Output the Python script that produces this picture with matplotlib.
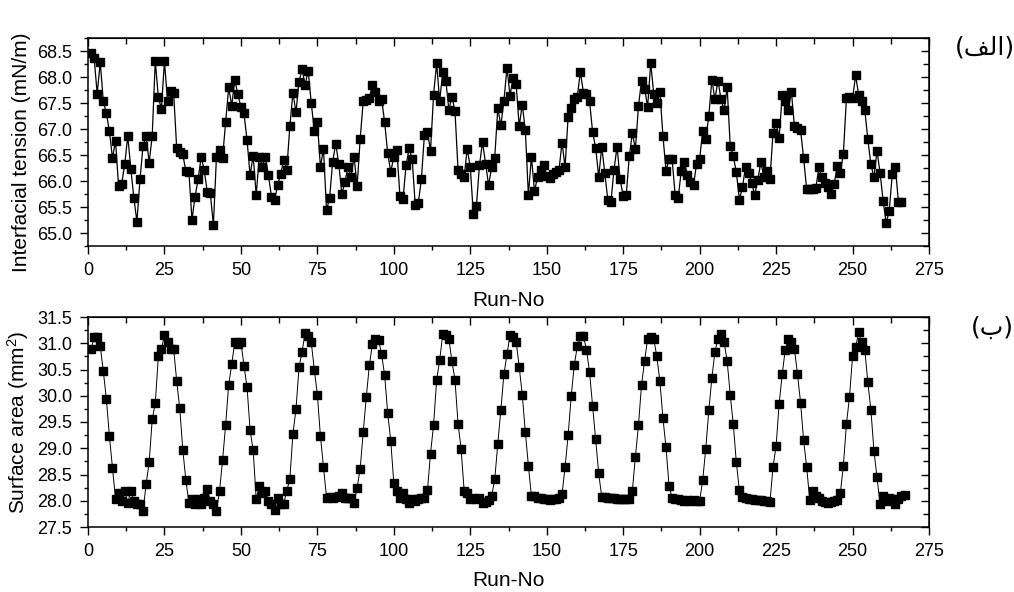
import numpy as np
import matplotlib
matplotlib.use("Agg")
import matplotlib.pyplot as plt
from matplotlib.ticker import MultipleLocator, NullFormatter, FormatStrFormatter

plt.rcParams['font.family'] = ['Liberation Sans', 'DejaVu Sans']
plt.rcParams['mathtext.default'] = 'regular'

# ---------------- data ----------------
tension = [
    68.47, 68.37, 67.68, 68.28, 67.54, 67.30, 66.96, 66.44, 66.77, 65.90,
    65.94, 66.32, 66.86, 66.24, 65.67, 65.22, 66.03, 66.68, 66.87, 66.35,
    66.87, 68.31, 67.61, 67.39, 68.30, 67.54, 67.74, 67.70, 66.63, 66.56,
    66.51, 66.19, 66.17, 65.25, 65.70, 66.03, 66.46, 66.21, 65.79, 65.76,
    65.15, 66.46, 66.60, 66.45, 67.13, 67.80, 67.45, 67.94, 67.67, 67.42,
    67.30, 66.79, 66.11, 66.49, 65.73, 66.46, 66.27, 66.47, 66.11, 65.70,
    65.63, 65.92, 66.14, 66.40, 66.22, 67.05, 67.70, 67.32, 67.91, 68.15,
    67.85, 68.12, 67.50, 66.97, 67.13, 66.27, 66.62, 65.44, 65.67, 66.37,
    66.72, 66.33, 65.75, 65.98, 66.27, 66.08, 66.47, 65.90, 66.81, 67.54,
    67.56, 67.60, 67.84, 67.72, 67.54, 67.58, 67.13, 66.53, 66.18, 66.46,
    66.60, 65.71, 65.65, 66.30, 66.63, 66.43, 65.54, 65.57, 66.03, 66.88,
    66.95, 66.58, 67.66, 68.26, 67.54, 68.10, 67.93, 67.37, 67.62, 67.35,
    66.21, 66.13, 66.08, 66.62, 66.27, 65.37, 65.51, 66.30, 66.75, 66.33,
    65.92, 66.27, 66.45, 67.40, 67.07, 67.54, 68.18, 67.64, 67.99, 67.86,
    67.05, 67.47, 66.98, 65.73, 66.47, 65.80, 66.08, 66.22, 66.30, 66.10,
    66.05, 66.13, 66.18, 66.21, 66.74, 66.27, 67.24, 67.40, 67.58, 67.62,
    68.10, 67.70, 67.68, 67.54, 66.94, 66.64, 66.08, 66.66, 66.15, 65.63,
    65.60, 66.22, 66.66, 66.03, 65.71, 65.73, 66.48, 66.92, 66.62, 67.44,
    67.93, 67.77, 67.43, 68.27, 67.67, 67.50, 67.72, 66.87, 66.20, 66.42,
    66.42, 65.73, 65.68, 66.20, 66.37, 66.11, 65.98, 65.92, 66.33, 66.42,
    66.97, 66.80, 67.25, 67.95, 67.57, 67.93, 67.57, 67.36, 67.80, 66.68,
    66.48, 66.17, 65.64, 65.88, 66.27, 66.16, 65.97, 65.73, 66.01, 66.36,
    66.07, 66.20, 66.04, 66.93, 67.12, 66.83, 67.66, 67.53, 67.37, 67.72,
    67.05, 67.02, 66.98, 66.44, 65.84, 65.84, 65.84, 65.87, 66.26, 66.07,
    65.97, 65.88, 65.75, 65.94, 66.29, 66.16, 66.52, 67.59, 67.62, 67.59,
    68.03, 67.66, 67.53, 67.37, 66.80, 66.32, 66.07, 66.58, 66.16, 65.62,
    65.19, 65.43, 66.14, 66.27, 65.60, 65.60,
]

area = [
    30.89, 31.11, 31.11, 30.95, 30.47, 29.94, 29.23, 28.63, 28.03, 28.14,
    28.00, 28.19, 27.96, 28.19, 28.00, 27.93, 27.93, 27.80, 28.32, 28.73,
    29.55, 29.86, 30.75, 30.89, 31.15, 31.02, 30.89, 30.90, 30.28, 29.76,
    28.97, 28.39, 27.96, 28.03, 27.93, 28.03, 27.93, 28.06, 28.22, 28.00,
    27.94, 27.81, 28.18, 28.77, 29.44, 30.21, 30.60, 31.03, 30.99, 31.03,
    30.57, 30.17, 29.35, 28.97, 28.03, 28.28, 28.14, 28.19, 28.00, 27.94,
    27.83, 28.06, 27.93, 27.94, 28.19, 28.41, 29.27, 29.74, 30.54, 30.84,
    31.20, 31.13, 31.02, 30.50, 30.02, 29.23, 28.64, 28.06, 28.07, 28.06,
    28.07, 28.09, 28.14, 28.06, 28.06, 28.05, 27.96, 28.25, 28.61, 29.31,
    29.98, 30.58, 30.99, 31.08, 31.07, 30.79, 30.39, 29.67, 29.14, 28.33,
    28.19, 28.06, 28.14, 28.03, 27.96, 28.03, 28.00, 28.03, 28.06, 28.05,
    28.20, 28.90, 29.44, 30.30, 30.68, 31.18, 31.16, 31.08, 30.66, 30.30,
    29.47, 28.99, 28.19, 28.14, 28.03, 28.06, 28.03, 28.06, 27.96, 27.98,
    28.01, 28.09, 28.41, 29.09, 29.73, 30.41, 30.79, 31.16, 31.11, 31.03,
    30.55, 30.02, 29.31, 28.67, 28.09, 28.09, 28.06, 28.06, 28.03, 28.03,
    28.01, 28.03, 28.03, 28.05, 28.12, 28.64, 29.25, 29.99, 30.58, 30.94,
    31.13, 31.13, 30.88, 30.45, 29.81, 29.17, 28.52, 28.07, 28.07, 28.06,
    28.06, 28.05, 28.04, 28.03, 28.03, 28.03, 28.03, 28.19, 28.84, 29.44,
    30.21, 30.66, 31.09, 31.11, 31.08, 30.75, 30.28, 29.57, 29.02, 28.28,
    28.06, 28.04, 28.03, 28.01, 28.00, 28.01, 28.00, 28.02, 28.00, 28.00,
    28.39, 28.99, 29.72, 30.34, 30.84, 31.09, 31.18, 31.02, 30.66, 30.02,
    29.46, 28.73, 28.20, 28.07, 28.06, 28.03, 28.03, 28.01, 28.02, 28.01,
    28.00, 28.00, 27.98, 28.65, 29.04, 29.85, 30.41, 30.88, 31.09, 31.02,
    30.89, 30.41, 29.87, 29.15, 28.64, 28.01, 28.18, 28.09, 28.06, 28.00,
    27.98, 27.96, 27.98, 28.00, 28.01, 28.14, 28.67, 29.46, 29.98, 30.75,
    30.92, 31.21, 31.02, 30.88, 30.26, 29.73, 28.95, 28.45, 27.94, 28.09,
    28.00, 28.06, 28.03, 27.94, 28.03, 28.09, 28.11,
]

runs_t = np.arange(1, len(tension) + 1)
runs_a = np.arange(1, len(area) + 1)

x_label = "Run-No"
y_label_top = "Interfacial tension (mN/m)"
y_label_bot = "Surface area (mm$^2$)"
# Arabic panel tags, written in presentation forms (visual order)
tag_top = "(\uFED2\uFEDF\uFE8D)"   # (الف)
tag_bot = "(\uFE8F)"               # (ب)

# ---------------- figure ----------------
W, H = 1014, 592
fig = plt.figure(figsize=(W / 100, H / 100), dpi=100)

def px_axes(l, t, r, b):
    return fig.add_axes([l / W, 1 - b / H, (r - l) / W, (b - t) / H])

ax1 = px_axes(88, 38, 929, 246)
ax2 = px_axes(88, 317, 929, 527)

def style(ax, ylim, ymaj, ymin):
    ax.set_xlim(0, 275)
    ax.set_ylim(*ylim)
    ax.xaxis.set_major_locator(MultipleLocator(25))
    ax.xaxis.set_minor_locator(MultipleLocator(12.5))
    ax.yaxis.set_major_locator(MultipleLocator(ymaj))
    ax.yaxis.set_minor_locator(MultipleLocator(ymin))
    ax.yaxis.set_major_formatter(FormatStrFormatter('%.1f'))
    ax.tick_params(which='both', direction='out', top=False, right=False,
                   width=1.0, labelsize=13, pad=6)
    ax.tick_params(which='major', length=5.5)
    ax.tick_params(which='minor', length=3)
    for s in ax.spines.values():
        s.set_linewidth(1.1)
    # mirrored inward ticks on top and right
    sx = ax.secondary_xaxis('top')
    sx.xaxis.set_major_locator(MultipleLocator(25))
    sx.xaxis.set_minor_locator(MultipleLocator(12.5))
    sx.xaxis.set_major_formatter(NullFormatter())
    sx.tick_params(which='both', direction='in', width=1.0)
    sx.tick_params(which='major', length=5.5)
    sx.tick_params(which='minor', length=4)
    sy = ax.secondary_yaxis('right')
    sy.yaxis.set_major_locator(MultipleLocator(ymaj))
    sy.yaxis.set_minor_locator(MultipleLocator(ymin))
    sy.yaxis.set_major_formatter(NullFormatter())
    sy.tick_params(which='both', direction='in', width=1.0)
    sy.tick_params(which='major', length=6)
    sy.tick_params(which='minor', length=4)
    ax.set_xlabel(x_label, fontsize=15)

style(ax1, (64.75, 68.75), 0.5, 0.25)
style(ax2, (27.5, 31.5), 0.5, 0.25)

ax1.plot(runs_t, tension, color='black', lw=0.9, marker='s', ms=6.3,
         mfc='black', mec='black')
ax2.plot(runs_a, area, color='black', lw=0.7, marker='s', ms=6.3,
         mfc='black', mec='black')

ax1.set_ylabel(y_label_top, fontsize=15)
ax2.set_ylabel(y_label_bot, fontsize=15)
ax1.yaxis.set_label_coords(-0.068, 0.45)
ax2.yaxis.set_label_coords(-0.068, 0.5)
ax1.xaxis.set_label_coords(0.5, -0.215)
ax2.xaxis.set_label_coords(0.5, -0.21)

fig.text(985 / W, 1 - 47 / H, tag_top, fontsize=18, ha='center', va='center',
         family=['DejaVu Sans'])
fig.text(992 / W, 1 - 328 / H, tag_bot, fontsize=18, ha='center', va='center',
         family=['DejaVu Sans'])

fig.savefig("out.png", dpi=100)
